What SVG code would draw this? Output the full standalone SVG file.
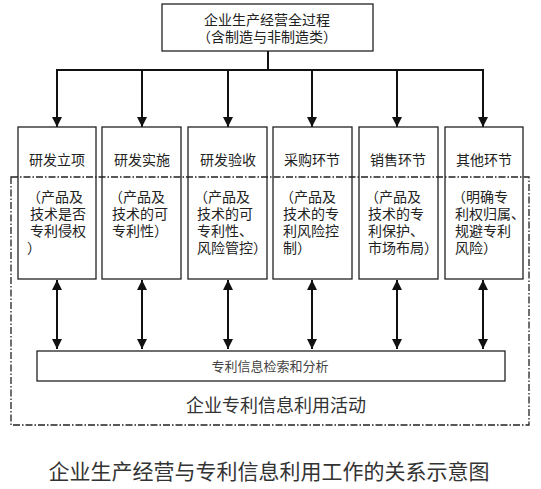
<svg xmlns="http://www.w3.org/2000/svg" width="541" height="489" viewBox="0 0 541 489">
<defs>
<style>
.box{fill:#fff;stroke:#222;stroke-width:1.3}
.t{font-family:"Noto Sans CJK SC","Noto Sans",sans-serif;font-size:14px;fill:#222}
.c{text-anchor:middle}
.ln{stroke:#111;stroke-width:2;fill:none}
.dd{fill:none;stroke:#222;stroke-width:1.3;stroke-dasharray:7,2,1.5,2}
</style>
<marker id="ah" markerUnits="userSpaceOnUse" markerWidth="10" markerHeight="12" refX="10" refY="5" orient="auto-start-reverse" viewBox="0 0 10 10">
<path d="M0,0 L10,5 L0,10 Z" fill="#111"/>
</marker>
</defs>
<rect width="541" height="489" fill="#fff"/>

<g id="connectors">
<line class="ln" x1="268" y1="51" x2="268" y2="70"/>
<line class="ln" x1="56" y1="70" x2="484" y2="70"/>
<line class="ln" x1="57" y1="70" x2="57" y2="127" marker-end="url(#ah)"/>
<line class="ln" x1="142" y1="70" x2="142" y2="127" marker-end="url(#ah)"/>
<line class="ln" x1="228" y1="70" x2="228" y2="127" marker-end="url(#ah)"/>
<line class="ln" x1="312" y1="70" x2="312" y2="127" marker-end="url(#ah)"/>
<line class="ln" x1="397" y1="70" x2="397" y2="127" marker-end="url(#ah)"/>
<line class="ln" x1="483" y1="70" x2="483" y2="127" marker-end="url(#ah)"/>
<line class="ln" x1="57" y1="280" x2="57" y2="349" marker-start="url(#ah)" marker-end="url(#ah)"/>
<line class="ln" x1="142" y1="280" x2="142" y2="349" marker-start="url(#ah)" marker-end="url(#ah)"/>
<line class="ln" x1="228" y1="280" x2="228" y2="349" marker-start="url(#ah)" marker-end="url(#ah)"/>
<line class="ln" x1="312" y1="280" x2="312" y2="349" marker-start="url(#ah)" marker-end="url(#ah)"/>
<line class="ln" x1="397" y1="280" x2="397" y2="349" marker-start="url(#ah)" marker-end="url(#ah)"/>
<line class="ln" x1="483" y1="280" x2="483" y2="349" marker-start="url(#ah)" marker-end="url(#ah)"/>
</g>

<g id="top">
<rect class="box" x="162" y="4" width="211" height="47"/>
<text class="t c" x="267" y="25">企业生产经营全过程</text>
<text class="t c" x="267" y="42">（含制造与非制造类）</text>
</g>

<g id="n1">
<rect class="box" x="18" y="127" width="78" height="152"/>
<text class="t c" x="57" y="165">研发立项</text>
<text class="t" x="27"><tspan x="27" y="202">（产品及</tspan><tspan x="30" y="219">技术是否</tspan><tspan x="30" y="236">专利侵权</tspan><tspan x="27" y="253">）</tspan></text>
</g>
<g id="n2">
<rect class="box" x="102" y="127" width="79" height="152"/>
<text class="t c" x="142" y="165">研发实施</text>
<text class="t"><tspan x="109" y="202">（产品及</tspan><tspan x="112" y="219">技术的可</tspan><tspan x="112" y="236">专利性）</tspan></text>
</g>
<g id="n3">
<rect class="box" x="188" y="127" width="79" height="152"/>
<text class="t c" x="228" y="165">研发验收</text>
<text class="t"><tspan x="194" y="202">（产品及</tspan><tspan x="197" y="219">技术的可</tspan><tspan x="197" y="236">专利性、</tspan><tspan x="197" y="253">风险管控）</tspan></text>
</g>
<g id="n4">
<rect class="box" x="273" y="127" width="79" height="152"/>
<text class="t c" x="312" y="165">采购环节</text>
<text class="t"><tspan x="280" y="202">（产品及</tspan><tspan x="283" y="219">技术的专</tspan><tspan x="283" y="236">利风险控</tspan><tspan x="283" y="253">制）</tspan></text>
</g>
<g id="n5">
<rect class="box" x="359" y="127" width="79" height="152"/>
<text class="t c" x="398" y="165">销售环节</text>
<text class="t"><tspan x="365" y="202">（产品及</tspan><tspan x="368" y="219">技术的专</tspan><tspan x="368" y="236">利保护、</tspan><tspan x="368" y="253">市场布局）</tspan></text>
</g>
<g id="n6">
<rect class="box" x="445" y="127" width="78" height="152"/>
<text class="t c" x="484" y="165">其他环节</text>
<text class="t"><tspan x="452" y="202">（明确专</tspan><tspan x="455" y="219">利权归属、</tspan><tspan x="455" y="236">规避专利</tspan><tspan x="455" y="253">风险）</tspan></text>
</g>

<g id="activity">
<rect class="dd" x="11" y="177" width="518" height="248"/>
</g>

<g id="search">
<rect class="box" x="37" y="351" width="468" height="30"/>
<text class="t c" x="270" y="371" style="font-size:13px;fill:#444">专利信息检索和分析</text>
</g>
<text class="t c" x="276" y="412" style="font-size:18px;fill:#333">企业专利信息利用活动</text>
<text class="t c" x="269" y="479" style="font-size:21px;fill:#333">企业生产经营与专利信息利用工作的关系示意图</text>
</svg>
